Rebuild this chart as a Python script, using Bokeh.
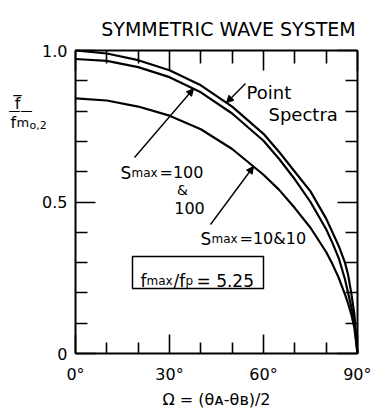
import numpy as np
from bokeh.plotting import figure
from bokeh.models import (Range1d, LinearAxis, FixedTicker, Label, Arrow,
                          NormalHead, BoxAnnotation)
from bokeh.embed import file_html
from bokeh.resources import INLINE

# Half-angle between the two wave trains, degrees
omega_deg = [0, 10, 20, 30, 40, 50, 60, 65, 70, 75, 80, 82, 84, 86, 87, 88, 89, 90]

# Normalised mean frequency f / f_m0,2 for each case
point_spectra = [1.000, 0.990, 0.968, 0.935, 0.885, 0.815, 0.725, 0.665, 0.600,
                 0.535, 0.445, 0.400, 0.355, 0.300, 0.260, 0.200, 0.130, 0.0]
smax_100 = [0.972, 0.966, 0.945, 0.912, 0.862, 0.792, 0.702, 0.642, 0.575,
            0.500, 0.410, 0.365, 0.315, 0.245, 0.200, 0.155, 0.105, 0.0]
smax_10 = [0.842, 0.835, 0.815, 0.785, 0.740, 0.675, 0.590, 0.540, 0.480,
           0.415, 0.335, 0.295, 0.250, 0.195, 0.165, 0.130, 0.085, 0.0]

x_major = [0, 30, 60, 90]
x_minor = [10, 20, 40, 50, 70, 80]
x_tick_text = ["0°", "30°", "60°", "90°"]
y_major = [0, 0.5, 1.0]
y_minor = [0.1, 0.2, 0.3, 0.4, 0.6, 0.7, 0.8, 0.9]
y_tick_text = ["0", "0.5", "1.0"]

FONT = "DejaVu Sans"
W, H = 371, 409
# pixel position of the plotting box on the canvas
L, R, T, B = 75, 357, 50, 353


def X(px):
    return (px - L) * 90.0 / (R - L)


def Y(py):
    return (B - py) / float(B - T)


# The frame fills the whole canvas; the axes are pinned to the box edges
p = figure(width=W, height=H, output_backend="svg", toolbar_location=None,
           title=None,
           x_range=Range1d(X(0), X(W)), y_range=Range1d(Y(H), Y(0)),
           min_border=0)
p.min_border_left = p.min_border_right = 0
p.min_border_top = p.min_border_bottom = 0
p.xgrid.visible = False
p.ygrid.visible = False
p.outline_line_color = None
p.background_fill_color = "white"
p.border_fill_color = "white"


def style_axis(ax, ticks, minor, labels, tin, tmin, show, loc, bounds):
    ax.fixed_location = loc
    ax.bounds = bounds
    ax.ticker = FixedTicker(ticks=ticks, minor_ticks=minor)
    ax.major_label_overrides = {t: s for t, s in zip(ticks, labels)}
    ax.axis_line_width = 2
    ax.axis_line_color = "black"
    ax.major_tick_in = tin
    ax.major_tick_out = 0
    ax.minor_tick_in = tmin
    ax.minor_tick_out = 0
    ax.major_tick_line_width = 1.6
    ax.minor_tick_line_width = 1.6
    ax.major_tick_line_color = "black"
    ax.minor_tick_line_color = "black"
    ax.major_label_text_font = FONT
    ax.major_label_text_color = "black"
    if show:
        ax.major_label_text_font_size = "16px"
    else:
        ax.major_label_text_font_size = "0px"
        ax.major_label_text_alpha = 0


style_axis(p.xaxis[0], x_major, x_minor, x_tick_text, 19, 11, True, 0, (0, 90))
p.xaxis[0].major_label_standoff = 11
style_axis(p.yaxis[0], y_major, y_minor, y_tick_text, 20, 12, True, 0, (0, 1))
p.yaxis[0].major_label_standoff = 8

top_ax = LinearAxis()
style_axis(top_ax, x_major, x_minor, x_tick_text, 20, 13, False, 1, (0, 90))
p.add_layout(top_ax, "above")
right_ax = LinearAxis()
style_axis(right_ax, y_major, y_minor, y_tick_text, 20, 12, False, 90, (0, 1))
p.add_layout(right_ax, "right")

# Curves
for ys in (point_spectra, smax_100, smax_10):
    p.line(omega_deg, ys, line_color="black", line_width=2.2)


def text(t, px, py, size, align="left"):
    p.add_layout(Label(x=X(px), y=Y(py), text=t, text_font=FONT,
                       text_font_size=f"{size}px", text_align=align,
                       text_baseline="alphabetic", text_color="black"))


# Title
text("SYMMETRIC WAVE SYSTEM", 228, 28, 19, "center")

# Y axis label: f-bar over f_m0,2
text("f", 17, 103, 16, "center")
text("‾", 17, 101, 16, "center")
text("——", 20, 110, 12, "center")
text("f", 10, 122, 16)
text("m", 16, 122, 13)
text("o,2", 29, 125, 11)

# X axis label
text("Ω = (θᴀ-θʙ)/2", 216, 399, 16, "center")

# Curve annotations
text("Point", 246, 92, 18)
text("Spectra", 268, 114, 18)

text("S", 120, 172, 17)
text("max", 131, 172, 12)
text("=100", 159, 172, 16)
text("&", 182, 189, 14, "center")
text("100", 189, 207, 16, "center")

text("S", 200, 238, 17)
text("max", 211, 238, 12)
text("=10&10", 239, 238, 16)

# Parameter box
p.add_layout(BoxAnnotation(left=X(132), right=X(263), top=Y(256), bottom=Y(288),
                           fill_alpha=0, line_color="black", line_alpha=1,
                           line_width=1.5))
text("f", 140, 280, 17)
text("max", 146, 280, 12)
text("/f", 173, 280, 17)
text("p", 185, 280, 12)
text("= 5.25", 196, 280, 17)


# Leader arrows pointing at each curve
def leader(px0, py0, ang, series):
    yv = float(np.interp(ang, omega_deg, series))
    p.add_layout(Arrow(x_start=X(px0), y_start=Y(py0), x_end=ang, y_end=yv,
                       line_color="black", line_width=1.4,
                       end=NormalHead(size=7, fill_color="black",
                                      line_color="black")))


leader(245, 83, X(226), point_spectra)
leader(134, 157, X(193), smax_100)
leader(210, 224, X(253), smax_10)

open("out.html", "w").write(file_html(p, INLINE))
